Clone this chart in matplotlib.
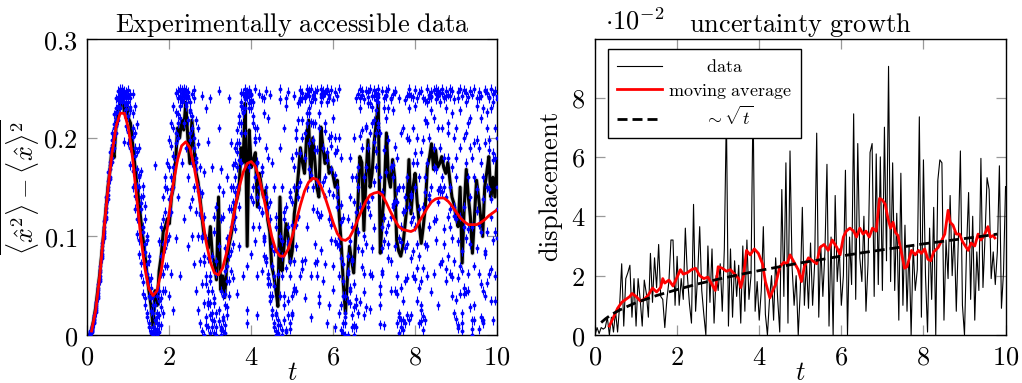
import matplotlib
matplotlib.use('Agg')
import matplotlib.pyplot as plt
import numpy as np

plt.rcParams['mathtext.fontset'] = 'cm'
plt.rcParams['font.family'] = 'DejaVu Serif'

dt = 0.05

# left panel: averaged variance (black), every 0.05 starting at t=0
mean_var = [
    0.0, 0.0, 0.005, 0.015, 0.028, 0.045, 0.062, 0.083, 0.105, 0.127,
    0.15, 0.168, 0.19, 0.18, 0.215, 0.228, 0.232, 0.248, 0.226, 0.235,
    0.22, 0.215, 0.195, 0.175, 0.155, 0.138, 0.118, 0.1, 0.083, 0.062,
    0.045, 0.03, 0.008, 0.045, 0.03, 0.065, 0.08, 0.105, 0.11, 0.118,
    0.113, 0.14, 0.15, 0.175, 0.21, 0.2, 0.218, 0.208, 0.236, 0.2,
    0.174, 0.218, 0.19, 0.165, 0.155, 0.138, 0.118, 0.1, 0.098, 0.088,
    0.11, 0.08, 0.072, 0.056, 0.14, 0.046, 0.06, 0.038, 0.07, 0.09,
    0.1, 0.112, 0.13, 0.138, 0.147, 0.19, 0.175, 0.235, 0.09, 0.208,
    0.17, 0.178, 0.185, 0.13, 0.164, 0.15, 0.14, 0.147, 0.117, 0.105,
    0.07, 0.06, 0.046, 0.029, 0.14, 0.065, 0.09, 0.113, 0.1, 0.073,
    0.085, 0.123, 0.14, 0.164, 0.19, 0.175, 0.164, 0.2, 0.218, 0.157,
    0.2, 0.178, 0.15, 0.14, 0.211, 0.19, 0.174, 0.185, 0.164, 0.17,
    0.161, 0.15, 0.157, 0.12, 0.09, 0.05, 0.022, 0.06, 0.09, 0.075,
    0.063, 0.1, 0.13, 0.181, 0.175, 0.106, 0.16, 0.198, 0.15, 0.164,
    0.195, 0.215, 0.235, 0.083, 0.12, 0.147, 0.205, 0.16, 0.15, 0.178,
    0.16, 0.096, 0.085, 0.08, 0.09, 0.11, 0.13, 0.178, 0.123, 0.15,
    0.164, 0.135, 0.113, 0.093, 0.11, 0.13, 0.171, 0.18, 0.194, 0.168,
    0.188, 0.17, 0.174, 0.181, 0.17, 0.164, 0.175, 0.157, 0.14, 0.133,
    0.12, 0.11, 0.15, 0.073, 0.13, 0.168, 0.14, 0.12, 0.083, 0.12,
    0.157, 0.14, 0.12, 0.1, 0.15, 0.165, 0.181, 0.14, 0.16, 0.14,
    0.178,
]

# left panel: damped oscillation (red), every 0.1 starting at t=0.1
fit_var = [
    0.004, 0.025, 0.06, 0.105, 0.148, 0.185, 0.212, 0.225, 0.225, 0.21,
    0.18, 0.14, 0.1, 0.068, 0.047, 0.04, 0.045, 0.065, 0.093, 0.125,
    0.155, 0.178, 0.192, 0.196, 0.19, 0.172, 0.148, 0.12, 0.094, 0.074,
    0.063, 0.061, 0.068, 0.084, 0.105, 0.128, 0.149, 0.165, 0.174, 0.176,
    0.171, 0.158, 0.14, 0.12, 0.1, 0.086, 0.08, 0.08, 0.087, 0.1,
    0.116, 0.132, 0.146, 0.155, 0.159, 0.158, 0.151, 0.14, 0.127, 0.114,
    0.103, 0.097, 0.096, 0.099, 0.107, 0.117, 0.127, 0.136, 0.142, 0.144,
    0.145, 0.142, 0.134, 0.125, 0.117, 0.11, 0.107, 0.106, 0.105, 0.107,
    0.115, 0.122, 0.129, 0.135, 0.138, 0.139, 0.139, 0.136, 0.131, 0.125,
    0.119, 0.115, 0.112, 0.112, 0.112, 0.114, 0.117, 0.121, 0.124, 0.127,
]

# left panel: single runs (blue, in units of 1e-3), six per time step from t=0.05
blue_samples = [
    [2, 0, 4, 1, 3, 0], [6, 4, 9, 3, 7, 5], [16, 13, 20, 12, 18, 15], [29, 25, 33, 23, 31, 27],
    [46, 40, 52, 38, 48, 43], [64, 57, 70, 55, 66, 60], [86, 78, 93, 80, 90, 82], [106, 98, 116, 100, 110, 104],
    [129, 120, 140, 118, 133, 125], [150, 142, 165, 138, 156, 147], [172, 160, 186, 158, 176, 168], [193, 180, 205, 176, 198, 188],
    [210, 196, 224, 190, 214, 203], [226, 212, 240, 205, 230, 218], [238, 225, 248, 218, 241, 232], [247, 240, 250, 230, 236, 244],
    [249, 244, 246, 241, 238, 250], [248, 243, 236, 225, 196, 245], [244, 247, 229, 212, 233, 240], [236, 206, 243, 195, 222, 249],
    [228, 190, 245, 172, 231, 240], [210, 166, 245, 150, 201, 225], [190, 141, 232, 128, 182, 205], [168, 118, 214, 102, 151, 186],
    [150, 96, 190, 82, 162, 160], [128, 73, 166, 61, 140, 134], [110, 54, 141, 42, 151, 105], [92, 38, 118, 30, 131, 84],
    [72, 22, 96, 18, 100, 62], [55, 12, 75, 8, 80, 40], [38, 4, 58, 2, 48, 24], [22, 0, 40, 0, 30, 8],
    [15, 3, 30, 6, 172, 2], [6, 12, 22, 18, 40, 0], [20, 35, 10, 45, 95, 3], [38, 62, 28, 80, 110, 10],
    [62, 92, 45, 118, 140, 22], [88, 125, 70, 150, 160, 45], [112, 148, 96, 175, 95, 70], [138, 170, 122, 198, 40, 100],
    [160, 192, 148, 215, 62, 125], [182, 210, 170, 232, 25, 150], [205, 226, 195, 246, 98, 178], [224, 240, 215, 248, 140, 200],
    [240, 243, 232, 250, 60, 220], [246, 249, 238, 236, 175, 238], [250, 241, 247, 215, 118, 244], [244, 235, 249, 190, 232, 240],
    [240, 218, 242, 160, 90, 247], [226, 198, 228, 130, 205, 236], [210, 175, 245, 100, 138, 222], [190, 150, 240, 72, 249, 200],
    [168, 125, 218, 45, 180, 176], [146, 100, 194, 25, 210, 150], [122, 75, 170, 12, 145, 124], [100, 52, 144, 4, 243, 98],
    [80, 32, 120, 0, 165, 74], [60, 18, 98, 10, 230, 52], [45, 8, 78, 30, 196, 34], [32, 2, 60, 55, 240, 20],
    [22, 15, 45, 80, 170, 8], [14, 38, 32, 105, 120, 2], [8, 62, 22, 130, 75, 0], [248, 90, 14, 150, 210, 25],
    [5, 118, 8, 168, 45, 0], [18, 145, 4, 40, 120, 15], [42, 10, 2, 65, 88, 30], [70, 28, 20, 98, 160, 55],
    [100, 55, 40, 128, 240, 80], [128, 85, 65, 150, 195, 110], [150, 115, 92, 172, 58, 135], [175, 145, 120, 190, 108, 160],
    [195, 170, 150, 208, 42, 186], [215, 195, 178, 222, 130, 90], [232, 215, 205, 236, 246, 175], [246, 230, 226, 245, 60, 225],
    [250, 242, 244, 239, 230, 205], [247, 25, 241, 246, 12, 70], [242, 249, 248, 235, 170, 230], [230, 245, 238, 140, 82, 244],
    [215, 236, 222, 110, 135, 150], [196, 250, 200, 210, 160, 95], [175, 210, 176, 60, 20, 140], [150, 245, 150, 200, 110, 130],
    [125, 170, 124, 241, 65, 165], [100, 225, 98, 80, 240, 95], [78, 248, 74, 190, 140, 150], [58, 180, 52, 130, 220, 62],
    [40, 135, 35, 244, 118, 52], [25, 90, 20, 175, 70, 40], [12, 50, 8, 150, 85, 60], [4, 20, 0, 120, 110, 22],
    [0, 2, 15, 85, 62, 10], [239, 40, 100, 190, 250, 10], [150, 80, 5, 60, 95, 0], [210, 118, 30, 15, 40, 125],
    [240, 5, 68, 232, 130, 3], [95, 35, 110, 247, 20, 92], [60, 75, 12, 145, 140, 6], [135, 112, 40, 22, 180, 20],
    [170, 150, 75, 243, 45, 48], [208, 185, 112, 90, 200, 45], [235, 218, 150, 140, 120, 121], [249, 240, 185, 237, 155, 60],
    [200, 246, 218, 75, 240, 67], [180, 242, 240, 38, 205, 76], [250, 225, 245, 150, 110, 215], [230, 195, 248, 242, 225, 168],
    [60, 162, 236, 250, 18, 216], [198, 128, 215, 240, 150, 244], [247, 92, 188, 215, 239, 73], [125, 60, 155, 188, 75, 249],
    [210, 32, 120, 155, 40, 225], [245, 241, 86, 122, 250, 236], [248, 155, 55, 245, 190, 243], [160, 215, 246, 72, 140, 207],
    [236, 250, 12, 178, 248, 186], [200, 118, 240, 244, 30, 146], [249, 202, 168, 96, 112, 192], [142, 238, 220, 46, 238, 70],
    [185, 95, 247, 8, 200, 162], [242, 140, 188, 130, 92, 150], [90, 60, 250, 22, 200, 98], [30, 115, 180, 5, 78, 132],
    [12, 72, 55, 2, 40, 119], [0, 22, 12, 40, 18, 40], [35, 80, 0, 118, 62, 65], [140, 48, 95, 32, 180, 45],
    [75, 160, 20, 8, 110, 77], [10, 200, 52, 135, 28, 0], [125, 30, 160, 240, 8, 37], [245, 170, 88, 105, 150, 22],
    [250, 240, 130, 230, 202, 34], [190, 244, 208, 85, 248, 69], [100, 62, 160, 20, 239, 44], [248, 210, 28, 170, 92, 212],
    [235, 247, 190, 241, 135, 130], [62, 235, 122, 250, 205, 26], [243, 140, 215, 60, 88, 231], [218, 249, 242, 196, 155, 109],
    [246, 205, 238, 228, 170, 187], [250, 241, 236, 245, 215, 211], [30, 160, 42, 205, 50, 11], [145, 62, 248, 110, 88, 65],
    [230, 240, 95, 10, 188, 119], [244, 220, 248, 165, 242, 105], [198, 78, 250, 230, 112, 92], [120, 239, 170, 45, 240, 75],
    [245, 172, 228, 160, 130, 133], [90, 247, 136, 248, 45, 191], [42, 135, 60, 180, 12, 147], [150, 18, 98, 22, 240, 2],
    [8, 110, 205, 48, 15, 94], [210, 35, 5, 125, 150, 15], [55, 238, 140, 12, 88, 127], [200, 92, 20, 243, 160, 58],
    [250, 245, 230, 130, 198, 15], [140, 78, 242, 20, 115, 143], [241, 175, 85, 210, 60, 120], [185, 249, 150, 110, 232, 57],
    [92, 240, 200, 35, 175, 68], [246, 12, 128, 160, 80, 48], [25, 186, 55, 248, 30, 14], [130, 68, 240, 5, 198, 19],
    [218, 160, 92, 145, 238, 15], [250, 236, 175, 60, 215, 90], [200, 244, 110, 240, 138, 142], [247, 228, 242, 150, 241, 44],
    [170, 62, 249, 220, 190, 116], [245, 239, 118, 168, 96, 250], [135, 210, 243, 30, 248, 147], [246, 150, 190, 236, 72, 146],
    [210, 246, 75, 250, 160, 145], [150, 92, 241, 180, 240, 108], [242, 230, 140, 55, 248, 67], [244, 180, 215, 120, 205, 80],
    [110, 250, 62, 242, 150, 128], [225, 40, 248, 170, 98, 59], [75, 200, 130, 239, 22, 121], [180, 118, 36, 210, 160, 16],
    [240, 10, 247, 58, 95, 7], [250, 190, 120, 228, 42, 70], [22, 65, 243, 12, 85, 4], [200, 130, 48, 249, 110, 42],
    [246, 236, 175, 98, 205, 44], [160, 45, 241, 215, 62, 108], [92, 248, 28, 140, 220, 190], [15, 110, 180, 6, 244, 0],
    [250, 195, 70, 160, 30, 15], [232, 240, 148, 88, 198, 126], [190, 62, 247, 240, 112, 6], [105, 220, 18, 175, 243, 52],
    [45, 138, 230, 12, 160, 15], [249, 82, 195, 248, 40, 85], [210, 246, 105, 150, 226, 53], [241, 188, 240, 62, 198, 148],
    [120, 250, 35, 230, 138, 67], [236, 96, 178, 245, 15, 185], [60, 210, 248, 105, 180, 35], [242, 150, 128, 239, 200, 98],
]

# right panel: displacement in units of 1e-2, every 0.05 starting at t=0
displacement = [
    0.0, 0.25, 0.05, 0.25, 0.2, 0.25, 0.6, 0.0, 0.6, 0.1,
    0.8, 0.1, 1.0, 2.4, 0.3, 1.9, 2.1, 2.35, 0.6, 1.9,
    0.3, 1.9, 1.2, 0.3, 1.85, 1.4, 0.6, 2.75, 1.1, 2.6,
    1.6, 3.05, 1.3, 1.2, 0.25, 1.2, 1.8, 3.2, 3.2, 1.0,
    2.65, 1.0, 1.9, 1.2, 3.6, 2.0, 1.05, 0.4, 4.4, 0.8,
    2.0, 3.65, 1.5, 0.7, 0.0, 3.0, 1.1, 2.9, 0.4, 2.0,
    1.5, 2.4, 0.8, 2.9, 7.5, 0.3, 2.9, 0.6, 2.5, 1.3,
    2.35, 0.4, 3.0, 0.8, 3.2, 1.2, 2.0, 8.0, 0.8, 1.8,
    0.5, 1.5, 3.65, 0.7, 0.0, 1.2, 2.0, 0.5, 2.6, 1.2,
    0.1, 4.9, 1.3, 5.8, 0.4, 6.2, 2.3, 1.0, 2.0, 0.0,
    1.5, 4.3, 1.0, 2.5, 0.9, 3.1, 1.0, 2.4, 6.8, 0.6,
    3.0, 1.3, 2.8, 5.75, 0.3, 3.3, 0.0, 4.7, 1.8, 2.9,
    1.0, 2.0, 5.55, 0.0, 3.3, 1.7, 7.45, 1.2, 6.45, 2.6,
    1.8, 4.0, 0.8, 2.4, 6.15, 6.45, 1.3, 6.1, 1.7, 6.0,
    1.5, 7.0, 2.5, 9.05, 1.8, 5.8, 1.5, 4.1, 0.5, 5.45,
    1.0, 3.7, 0.8, 3.0, 0.0, 3.0, 1.5, 2.2, 7.35, 0.6,
    5.9, 2.0, 0.1, 3.6, 1.2, 4.3, 0.0, 5.2, 5.9, 5.8,
    0.5, 3.2, 1.9, 4.7, 2.0, 3.5, 0.8, 3.2, 6.2, 1.0,
    0.0, 2.9, 4.8, 1.2, 4.0, 0.5, 2.8, 1.5, 5.95, 1.6,
    3.3, 5.3, 4.9, 1.9, 2.8, 1.7, 2.8, 5.7, 0.9, 2.1,
    5.0,
]

avg_t = [
    0.35, 0.45, 0.55, 0.65, 0.75, 0.85, 0.9, 1.0, 1.1, 1.2, 1.3, 1.4, 1.5, 1.6, 1.65, 1.7,
    1.8, 1.9, 2.0, 2.08, 2.15, 2.25, 2.35, 2.45, 2.55, 2.65, 2.75, 2.85, 2.93, 3.0, 3.1, 3.2,
    3.3, 3.4, 3.5, 3.55, 3.62, 3.69, 3.78, 3.88, 3.98, 4.08, 4.15, 4.26, 4.33, 4.4, 4.5, 4.6,
    4.68, 4.75, 4.85, 4.95, 5.03, 5.1, 5.2, 5.3, 5.4, 5.48, 5.58, 5.68, 5.78, 5.89, 5.97, 6.05,
    6.12, 6.21, 6.3, 6.37, 6.45, 6.53, 6.6, 6.68, 6.76, 6.85, 6.93, 7.0, 7.07, 7.14, 7.2, 7.26,
    7.32, 7.38, 7.46, 7.54, 7.6, 7.71, 7.8, 7.88, 7.95, 8.03, 8.11, 8.18, 8.25, 8.36, 8.45, 8.52,
    8.6, 8.65, 8.72, 8.8, 8.88, 8.95, 9.02, 9.09, 9.16, 9.25, 9.33, 9.4, 9.48, 9.57, 9.63, 9.7, 9.74,
]
avg_disp = [
    0.3, 0.6, 0.9, 1.1, 1.2, 1.3, 1.4, 1.3, 1.15, 1.2, 1.35, 1.58, 1.45, 1.6, 1.9, 1.75,
    1.85, 1.65, 1.95, 2.2, 2.05, 2.1, 2.2, 2.25, 2.0, 1.9, 1.95, 1.7, 1.5, 2.3, 2.25, 2.15,
    2.2, 2.05, 1.9, 1.6, 2.0, 2.85, 2.7, 2.9, 2.75, 2.4, 1.8, 1.25, 1.5, 1.7, 2.3, 2.45,
    2.4, 2.7, 2.45, 2.2, 1.8, 2.3, 2.6, 2.5, 2.4, 2.95, 3.05, 2.85, 3.2, 2.95, 2.7, 3.3,
    3.5, 3.6, 3.5, 3.3, 3.6, 3.4, 3.5, 3.3, 3.6, 3.5, 4.6, 4.55, 4.4, 3.9, 3.6, 3.8,
    3.45, 3.35, 2.8, 2.25, 2.3, 2.85, 2.7, 2.85, 2.75, 2.9, 2.55, 2.5, 2.8, 2.95, 3.2, 3.4,
    4.2, 3.8, 3.7, 3.4, 3.4, 3.15, 3.0, 2.85, 3.1, 3.0, 3.4, 3.2, 3.35, 3.65, 3.3, 3.35, 3.27,
]

sqrt_t = [0.15, 0.25, 0.4, 0.6, 0.8, 1.0, 1.5, 2.0, 2.5, 3.0, 3.5, 4.0, 4.5, 5.0,
          5.5, 6.0, 6.5, 7.0, 7.5, 8.0, 8.5, 9.0, 9.5, 9.8]
sqrt_disp = [0.42, 0.54, 0.69, 0.84, 0.97, 1.09, 1.33, 1.53, 1.72, 1.88, 2.03, 2.17, 2.30, 2.43,
             2.54, 2.66, 2.77, 2.87, 2.97, 3.07, 3.16, 3.25, 3.34, 3.40]

FS = 19


def style_axes(ax):
    ax.tick_params(direction='in', top=True, right=True, length=7, width=0.9,
                   color='0.6', labelsize=FS, pad=7)
    for s in ax.spines.values():
        s.set_linewidth(1.0)
        s.set_color('black')


fig = plt.figure(figsize=(10.22, 3.83), dpi=100)
ax1 = fig.add_axes([0.0856, 0.1253, 0.4007, 0.772])
ax2 = fig.add_axes([0.5822, 0.1253, 0.4017, 0.772])

# left
t_mean = np.arange(len(mean_var)) * dt
ax1.plot(t_mean, mean_var, color='0.5', lw=3.4, alpha=0.35, zorder=2)
ax1.plot(t_mean, mean_var, color='black', lw=2.2, zorder=3)
blue = np.array(blue_samples) / 1000
t_blue = np.repeat(np.arange(1, len(blue_samples) + 1) * dt, blue.shape[1])
ax1.errorbar(t_blue, blue.ravel(), yerr=0.0045, fmt='o', ms=2.8, mew=0, color='blue',
             elinewidth=0.8, capsize=1.2, capthick=0.8, zorder=4)
t_fit = np.arange(1, len(fit_var) + 1) * 0.1
ax1.plot(t_fit, fit_var, color='red', lw=2.0, zorder=5)

ax1.set_xlim(0, 10)
ax1.set_ylim(0, 0.3)
ax1.set_xticks([0, 2, 4, 6, 8, 10])
ax1.set_xticklabels([r'$%d$' % v for v in [0, 2, 4, 6, 8, 10]])
ax1.set_yticks([0, 0.1, 0.2, 0.3])
ax1.set_yticklabels([r'$0$', r'$0.1$', r'$0.2$', r'$0.3$'])
ax1.set_xlabel(r'$t$', fontsize=FS, labelpad=-7)
ax1.set_ylabel(r'$\overline{\langle \hat{x}^2\rangle - \langle \hat{x}\rangle^2}$',
               fontsize=FS, labelpad=1)
ax1.set_title(r'$\mathrm{Experimentally\ accessible\ data}$', fontsize=FS, pad=5)
style_axes(ax1)

# right
t_disp = np.arange(len(displacement)) * dt
ax2.plot(t_disp, displacement, color='black', lw=0.8, label=r'$\hspace{2.4}\mathrm{data}$')
ax2.plot(avg_t, avg_disp, color='red', lw=2.0, label=r'$\mathrm{moving\ average}$')
ax2.plot(sqrt_t, sqrt_disp, color='black', lw=2.0, ls=(0, (3.6, 1.8)),
         label=r'$\hspace{2.3}\sim\sqrt{t}$')

ax2.set_xlim(0, 10)
ax2.set_ylim(0, 9.96)
ax2.set_xticks([0, 2, 4, 6, 8, 10])
ax2.set_xticklabels([r'$%d$' % v for v in [0, 2, 4, 6, 8, 10]])
ax2.set_yticks([0, 2, 4, 6, 8])
ax2.set_yticklabels([r'$%d$' % v for v in [0, 2, 4, 6, 8]])
ax2.set_xlabel(r'$t$', fontsize=FS, labelpad=-7)
ax2.set_ylabel(r'$\mathrm{displacement}$', fontsize=FS, labelpad=4)
ax2.set_title(r'$\mathrm{uncertainty\ growth}$', fontsize=FS, pad=5)
ax2.text(0.025, 1.015, r'$\cdot 10^{-2}$', transform=ax2.transAxes,
         fontsize=FS, ha='left', va='bottom')
style_axes(ax2)

leg = ax2.legend(loc='upper left', bbox_to_anchor=(0.032, 0.967), borderaxespad=0,
                 fontsize=13, fancybox=False, edgecolor='black', framealpha=1,
                 handlelength=2.5, handletextpad=0.3, labelspacing=0.3, borderpad=0.5)
leg.get_frame().set_linewidth(1.0)

fig.savefig('out.png', dpi=100)
